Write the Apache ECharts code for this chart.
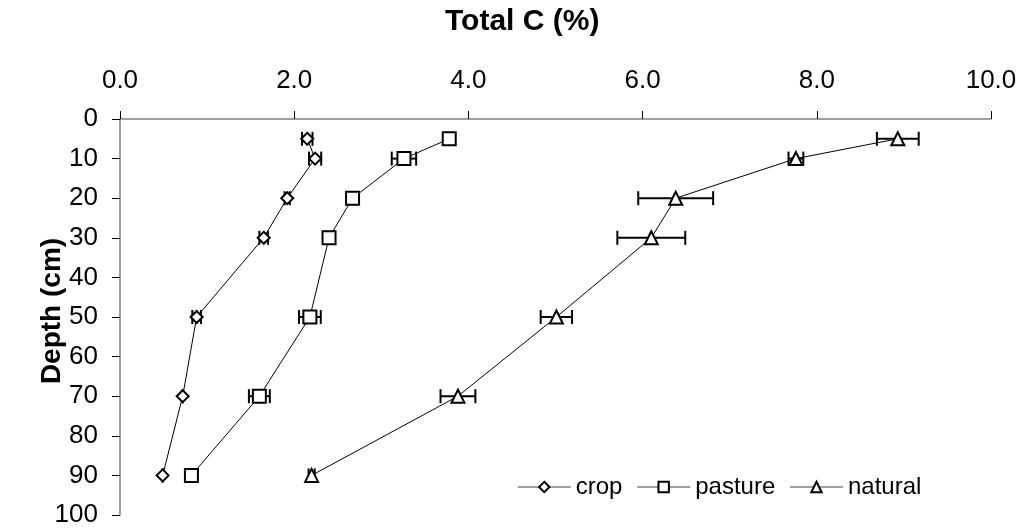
<!DOCTYPE html>
<html>
<head>
<meta charset="utf-8">
<script src="https://cdn.jsdelivr.net/npm/echarts@6/dist/echarts.min.js"></script>
<style>
html,body{margin:0;padding:0;background:#fff;}
#chart{width:1020px;height:528px;}
</style>
</head>
<body>
<div id="chart"></div>
<script>
const depths = [5, 10, 20, 30, 50, 70, 90];
const crop = [2.15, 2.24, 1.92, 1.65, 0.88, 0.72, 0.49];
const cropErr = [0.06, 0.07, 0.03, 0.05, 0.05, 0, 0];
const pasture = [3.78, 3.26, 2.67, 2.40, 2.18, 1.60, 0.82];
const pastureErr = [0.04, 0.14, 0.03, 0.03, 0.125, 0.12, 0.03];
const natural = [8.93, 7.76, 6.38, 6.10, 5.01, 3.88, 2.20];
const naturalErr = [0.24, 0.085, 0.43, 0.39, 0.18, 0.20, 0.035];
const seriesNames = ['crop', 'pasture', 'natural'];
const symbols = ['diamond', 'rect', 'triangle'];
const xTitle = 'Total C (%)';
const yTitle = 'Depth (cm)';

const FONT = "'Liberation Sans', Arial, sans-serif";
const values = [crop, pasture, natural];
const errs = [cropErr, pastureErr, naturalErr];
const sizes = [[12, 12], [13, 13], [13, 13]];

function errSeries(vals, e) {
  return {
    type: 'custom',
    z: 1,
    silent: true,
    encode: { x: [0, 1], y: 2 },
    data: vals.map((v, i) => [v - e[i], v + e[i], depths[i]]),
    renderItem: function (params, api) {
      const a = api.coord([api.value(0), api.value(2)]);
      const b = api.coord([api.value(1), api.value(2)]);
      const h = 7;
      const st = { stroke: '#000', lineWidth: 2 };
      return {
        type: 'group',
        children: [
          { type: 'line', shape: { x1: a[0], y1: a[1], x2: b[0], y2: b[1] }, style: st },
          { type: 'line', shape: { x1: a[0], y1: a[1] - h, x2: a[0], y2: a[1] + h }, style: st },
          { type: 'line', shape: { x1: b[0], y1: b[1] - h, x2: b[0], y2: b[1] + h }, style: st }
        ]
      };
    }
  };
}

const series = [];
seriesNames.forEach((n, k) => {
  series.push(errSeries(values[k], errs[k]));
});
seriesNames.forEach((n, k) => {
  series.push({
    name: n,
    type: 'line',
    z: 3,
    data: values[k].map((v, i) => [v, depths[i]]),
    symbol: symbols[k],
    symbolSize: sizes[k],
    showAllSymbol: true,
    lineStyle: { color: '#000', width: 1 },
    itemStyle: { color: '#fff', borderColor: '#000', borderWidth: 2 },
    emphasis: { disabled: true },
    animation: false
  });
});

const chart = echarts.init(document.getElementById('chart'), null, { renderer: 'canvas' });
chart.setOption({
  backgroundColor: '#fff',
  animation: false,
  grid: { left: 120, right: 29, top: 119, bottom: 6 },
  graphic: [{
    type: 'text', left: 445, top: 7,
    style: { text: xTitle, font: "bold 30px " + FONT, fill: '#000' }
  }],
  legend: {
    data: seriesNames,
    left: 512, top: 470,
    itemWidth: 53, itemHeight: 13, itemGap: 14,
    textStyle: { fontFamily: FONT, fontSize: 24, color: '#000' },
    lineStyle: { color: '#808080', width: 1.5 },
    selectedMode: false
  },
  xAxis: {
    type: 'value', position: 'top', min: 0, max: 10, interval: 2,
    axisLine: { show: true, lineStyle: { color: '#808080', width: 1.5 } },
    axisTick: { show: true, length: 8, lineStyle: { color: '#000', width: 1 } },
    splitLine: { show: false },
    axisLabel: { margin: 25, fontFamily: FONT, fontSize: 26, color: '#000', formatter: v => v.toFixed(1) }
  },
  yAxis: {
    type: 'value', inverse: true, min: 0, max: 100, interval: 10,
    name: yTitle, nameLocation: 'middle', nameGap: 54, nameRotate: 90,
    nameMoveOverlap: false,
    nameTextStyle: { fontFamily: FONT, fontSize: 28, fontWeight: 'bold', color: '#000', padding: [0, 0, 0, 12] },
    axisLine: { show: true, lineStyle: { color: '#808080', width: 1.5 } },
    axisTick: { show: true, length: 8, lineStyle: { color: '#000', width: 1 } },
    splitLine: { show: false },
    axisLabel: { margin: 22, fontFamily: FONT, fontSize: 26, color: '#000' }
  },
  series: series
});
</script>
</body>
</html>
